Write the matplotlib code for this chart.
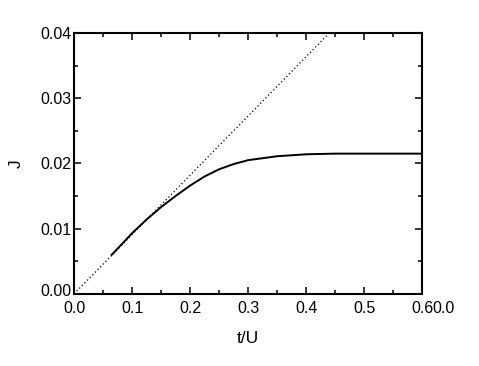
import matplotlib
matplotlib.use('Agg')
import matplotlib.pyplot as plt
import matplotlib.transforms as mtransforms
from matplotlib.ticker import MultipleLocator

plt.rcParams.update({'font.family': 'Liberation Sans', 'font.size': 11.5})

# linear (dotted) reference line
lin_t = [0.0, 0.44]
lin_J = [0.0, 0.04]

# full curve (solid)
t = [0.065, 0.08, 0.1, 0.125, 0.15, 0.175, 0.2, 0.225, 0.25, 0.275, 0.3,
     0.35, 0.4, 0.45, 0.5, 0.55, 0.6]
J = [0.0060, 0.0074, 0.0093, 0.0114, 0.0133, 0.0150, 0.0166, 0.0180, 0.0191,
     0.0199, 0.0205, 0.0211, 0.0214, 0.0215, 0.0215, 0.0215, 0.0215]

xticks = [0.0, 0.1, 0.2, 0.3, 0.4, 0.5, 0.6]
xticklabels = ['0.0', '0.1', '0.2', '0.3', '0.4', '0.5', '0.6']
yticks = [0.00, 0.01, 0.02, 0.03, 0.04]
yticklabels = ['0.00', '0.01', '0.02', '0.03', '0.04']

fig = plt.figure(figsize=(4.79, 3.66), dpi=100)
ax = fig.add_axes([0.1545, 0.197, 0.727, 0.713])

ax.plot(lin_t, lin_J, color='black', lw=0.9, linestyle=(0, (1, 2)))
ax.plot(t, J, color='black', lw=1.4)

ax.set_xlim(0, 0.6)
ax.set_ylim(0, 0.04)
ax.set_xticks(xticks)
ax.set_xticklabels(xticklabels)
ax.set_yticks(yticks)
ax.set_yticklabels(yticklabels)
ax.xaxis.set_minor_locator(MultipleLocator(0.05))
ax.yaxis.set_minor_locator(MultipleLocator(0.005))
ax.tick_params(which='both', direction='in', top=True, right=True, width=1.1)
ax.tick_params(which='major', length=5)
ax.tick_params(which='minor', length=3)
ax.tick_params(axis='y', pad=2)
ax.tick_params(axis='x', pad=5)
for s in ax.spines.values():
    s.set_linewidth(1.5)

# nudge "0.00" up a little so it sits above the x "0.0"
lab0 = ax.get_yticklabels()[0]
lab0.set_transform(lab0.get_transform() +
                   mtransforms.ScaledTranslation(0, 3 / 72, fig.dpi_scale_trans))

# overlapping second "0.0" label at lower right
ax.annotate('0.0', xy=(0.6, 0), xytext=(7, -5), textcoords='offset points',
            ha='left', va='top', fontsize=11.5)

ax.set_xlabel('t/U', labelpad=11, fontsize=12.5)
ax.set_ylabel('J', labelpad=12, fontsize=12.5)

fig.savefig('out.png', dpi=100)
